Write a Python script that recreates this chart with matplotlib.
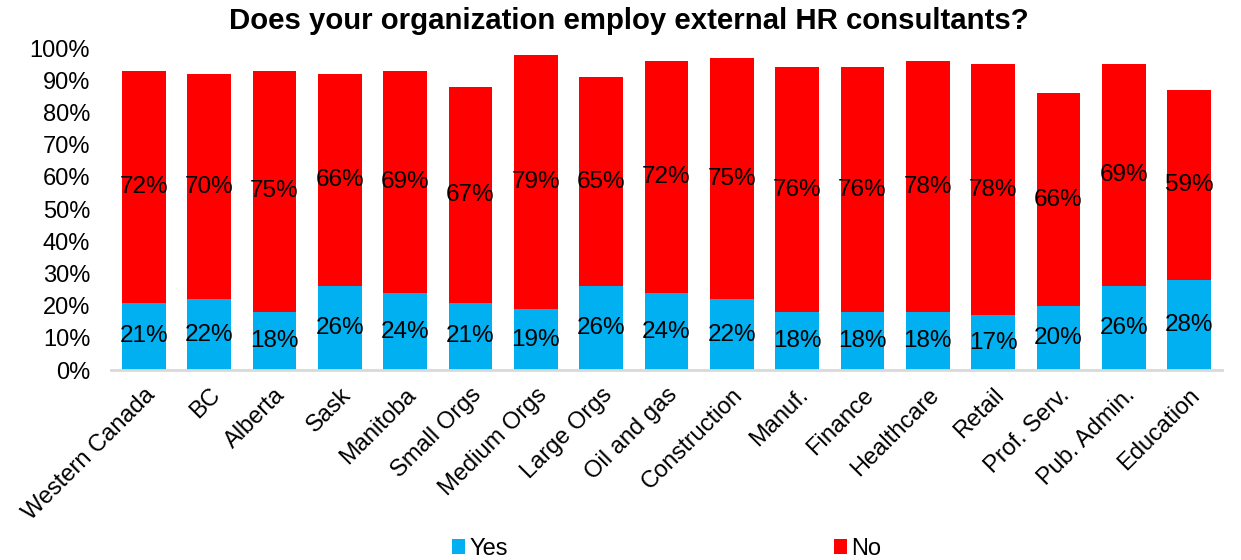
import matplotlib
matplotlib.use("Agg")
import matplotlib.pyplot as plt
from matplotlib.ticker import PercentFormatter

plt.rcParams['font.family'] = ['Liberation Sans', 'DejaVu Sans']

categories = ["Western Canada", "BC", "Alberta", "Sask", "Manitoba", "Small Orgs",
              "Medium Orgs", "Large Orgs", "Oil and gas", "Construction", "Manuf.",
              "Finance", "Healthcare", "Retail", "Prof. Serv.", "Pub. Admin.", "Education"]
yes_vals = [21, 22, 18, 26, 24, 21, 19, 26, 24, 22, 18, 18, 18, 17, 20, 26, 28]
no_vals = [72, 70, 75, 66, 69, 67, 79, 65, 72, 75, 76, 76, 78, 78, 66, 69, 59]

blue = "#00b0f0"
red = "#ff0000"

fig = plt.figure(figsize=(12.41, 5.60), dpi=100)
ax = fig.add_axes([0.0895, 0.339, 0.895, 0.575])

x = range(len(categories))
width = 0.67
b1 = ax.bar(x, yes_vals, width, color=blue, label="Yes")
b2 = ax.bar(x, no_vals, width, bottom=yes_vals, color=red, label="No")

for i, (y, n) in enumerate(zip(yes_vals, no_vals)):
    ax.text(i, y / 2, f"{y}%", ha="center", va="center", fontsize=17.5, color="black")
    ax.text(i, y + n / 2, f"{n}%", ha="center", va="center", fontsize=17.5, color="black")

ax.set_xlim(-0.5, len(categories) - 0.5)
ax.set_ylim(0, 100)
ax.set_yticks(range(0, 101, 10))
ax.yaxis.set_major_formatter(PercentFormatter(decimals=0))
ax.set_xticks(list(x))
ax.set_xticklabels(categories, rotation=45, ha="right", rotation_mode="anchor", fontsize=17)
ax.tick_params(axis="both", length=0, labelsize=17)
ax.tick_params(axis="x", pad=10)
ax.tick_params(axis="y", pad=15)

for s in ["top", "right", "left"]:
    ax.spines[s].set_visible(False)
ax.spines["bottom"].set_color("#d9d9d9")
ax.spines["bottom"].set_linewidth(2)

fig.suptitle("Does your organization employ external HR consultants?", x=0.507, y=0.962,
             fontsize=21.2, fontweight="bold", va="center")

fig.legend(handles=[b1, b2], labels=["Yes", "No"], loc="center", ncol=2,
           bbox_to_anchor=(0.537, 0.02), frameon=False, fontsize=17,
           handlelength=0.55, handleheight=0.55, handletextpad=0.2, columnspacing=13.8)

fig.savefig("out.png", dpi=100)
